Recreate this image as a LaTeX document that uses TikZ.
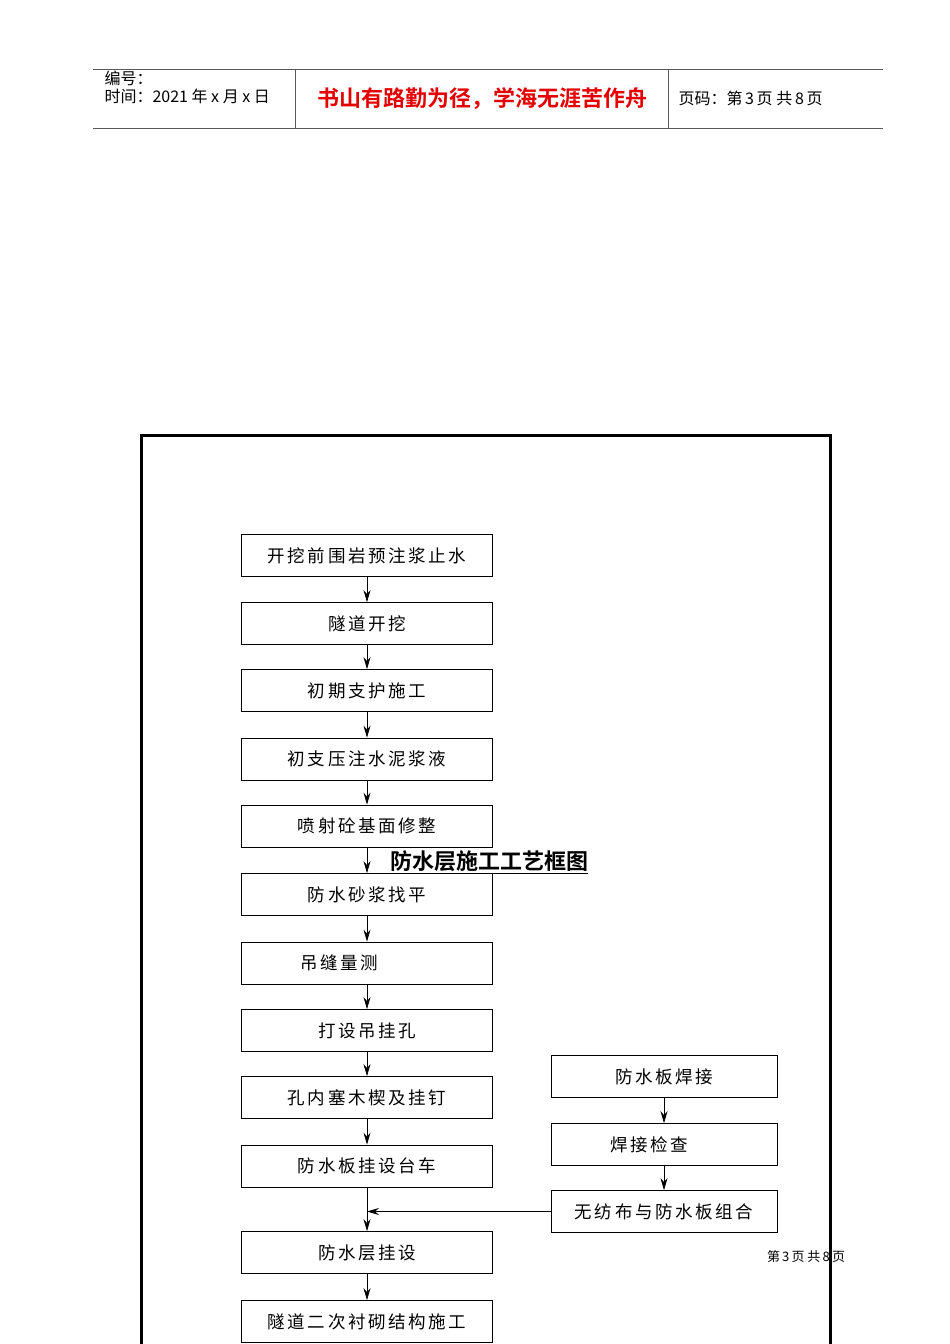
\documentclass[tikz,border=0pt]{standalone}
\usepackage{fontspec}
\newfontfamily\cjk{Noto Sans CJK SC}
\newfontfamily\cjksp{Noto Sans CJK SC}[LetterSpace=15]
\newfontfamily\cjkb{Noto Sans CJK SC}[BoldFont={* Bold}]
\usetikzlibrary{arrows.meta}
\begin{document}
\begin{tikzpicture}[x=1pt,y=-1pt,
  box/.style={draw,line width=0.8pt,minimum height=42pt,font=\cjksp\fontsize{17.5}{18}\selectfont,inner sep=0pt},
  lbox/.style={box,minimum width=251pt},
  rbox/.style={box,minimum width=226pt},
  arr/.style={-{Stealth[length=12pt,width=7pt,inset=4pt]},line width=0.7pt}]
\useasboundingbox (0,0) rectangle (950,1344);
\fill[white] (0,0) rectangle (950,1344);
% header
\draw[gray!70!black,line width=0.8pt] (93,69)--(883,69);
\draw[gray!70!black,line width=1pt] (93,128)--(883,128);
\draw[gray!70!black,line width=0.7pt] (295,69)--(295,128) (668,69)--(668,128);
\node[anchor=west,font=\cjk\fontsize{16}{16}\selectfont] (h1) at (101,78) {编号：};
\node[anchor=west,font=\cjk\fontsize{16}{16}\selectfont] (h2) at (101,96) {时间：2021 年 x 月 x 日};
\node[font=\cjkb\bfseries\fontsize{22}{22}\selectfont,text=red!90!black] (h3) at (482,99) {书山有路勤为径，学海无涯苦作舟};
\node[anchor=west,font=\cjk\fontsize{16}{16}\selectfont] (h4) at (675,98) {页码：第\,3\,页 共\,8\,页};
% frame
\draw[line width=3pt] (141,1350)--(141,435)--(830,435)--(830,1350);
% left chain
\node[lbox] (b1) at (367,555.5) {开挖前围岩预注浆止水};
\node[lbox] (b2) at (367,623.5) {隧道开挖};
\node[lbox] (b3) at (367,690.5) {初期支护施工};
\node[lbox] (b4) at (367,759) {初支压注水泥浆液};
\node[lbox] (b5) at (367,826) {喷射砼基面修整};
\node[lbox] (b6) at (367,894.5) {防水砂浆找平};
\node[lbox] (b7) at (367,963) {\hspace*{-56pt}吊缝量测};
\node[lbox] (b8) at (367,1030.5) {打设吊挂孔};
\node[lbox] (b9) at (367,1097.5) {孔内塞木楔及挂钉};
\node[lbox] (b10) at (367,1166) {防水板挂设台车};
\node[lbox] (b11) at (367,1252.5) {防水层挂设};
\node[lbox] (b12) at (367,1321.5) {隧道二次衬砌结构施工};
\foreach \a/\b in {b1/b2,b2/b3,b3/b4,b4/b5,b5/b6,b6/b7,b7/b8,b8/b9,b9/b10,b10/b11,b11/b12}
  \draw[arr] (\a.south)--(\b.north);
% right chain
\node[rbox] (r1) at (664,1076.5) {防水板焊接};
\node[rbox] (r2) at (664,1144.5) {\hspace*{-30pt}焊接检查};
\node[rbox] (r3) at (664,1211.5) {无纺布与防水板组合};
\draw[arr] (r1)--(r2);
\draw[arr] (r2)--(r3);
\draw[arr] (r3.west)--(367,1211.5);
% title and footer
\node[font=\cjkb\bfseries\fontsize{22}{22}\selectfont] (t) at (489,862) {\underline{防水层施工工艺框图}};
\node[font=\cjk\fontsize{13}{13}\selectfont] (f) at (806,1257) {第\,3\,页 共\,8\,页};
\end{tikzpicture}
\end{document}
